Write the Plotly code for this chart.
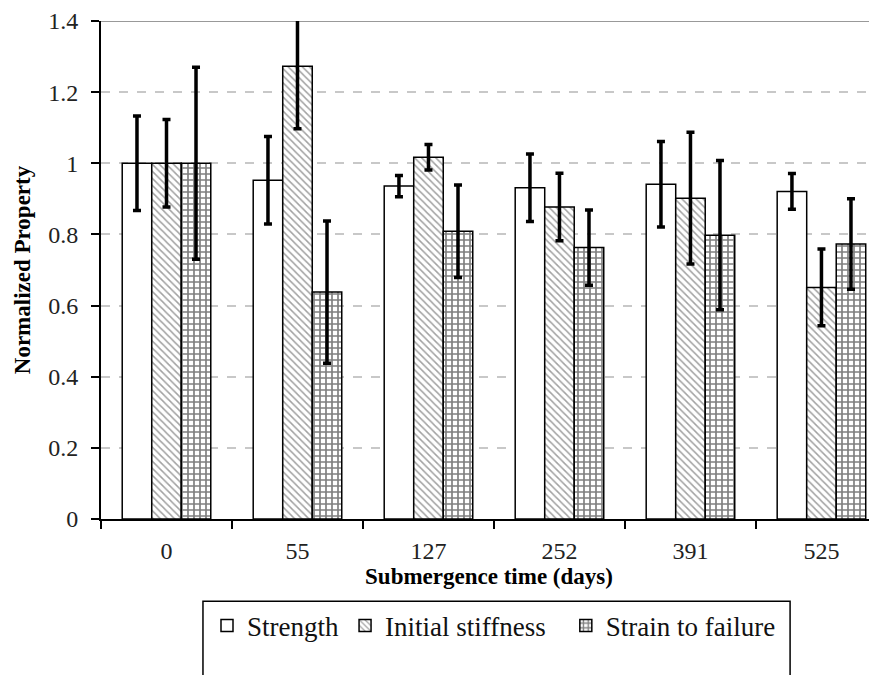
import plotly.graph_objects as go

categories = ["0", "55", "127", "252", "391", "525"]
strength = [1.0, 0.952, 0.936, 0.931, 0.941, 0.921]
strength_err = [0.133, 0.123, 0.030, 0.095, 0.120, 0.050]
stiffness = [1.0, 1.273, 1.017, 0.877, 0.902, 0.651]
stiffness_err = [0.123, 0.176, 0.036, 0.095, 0.185, 0.108]
strain = [1.0, 0.638, 0.809, 0.763, 0.798, 0.773]
strain_err = [0.270, 0.200, 0.130, 0.106, 0.210, 0.127]
y_ticks = [0, 0.2, 0.4, 0.6, 0.8, 1, 1.2, 1.4]
y_tick_text = ["0", "0.2", "0.4", "0.6", "0.8", "1", "1.2", "1.4"]

FONT = "Liberation Serif, Times New Roman, serif"
err_style = dict(type="data", visible=True, color="black", thickness=3.5, width=4)

fig = go.Figure()
fig.add_trace(go.Bar(
    name="Strength", x=categories, y=strength, legend="legend",
    error_y=dict(array=strength_err, **err_style),
    marker=dict(color="white", line=dict(color="black", width=1.5)),
))
fig.add_trace(go.Bar(
    name="Initial stiffness", x=categories, y=stiffness, legend="legend2",
    error_y=dict(array=stiffness_err, **err_style),
    marker=dict(color="white", line=dict(color="black", width=1.5),
                pattern=dict(shape="\\", fgcolor="#444444", bgcolor="white",
                             size=5, solidity=0.3)),
))
fig.add_trace(go.Bar(
    name="Strain to failure", x=categories, y=strain, legend="legend3",
    error_y=dict(array=strain_err, **err_style),
    marker=dict(color="white", line=dict(color="black", width=1.5),
                pattern=dict(shape="+", fgcolor="#000000", bgcolor="white",
                             size=6, solidity=0.48)),
))

leg_common = dict(orientation="h", xanchor="left", yanchor="middle", y=-0.2147,
                  bgcolor="rgba(0,0,0,0)", borderwidth=0,
                  font=dict(family=FONT, size=27, color="#111111"),
                  itemwidth=30)

# The page adds an 8 px body margin, so the figure is laid out 8 px smaller.
fig.update_layout(
    width=869, height=667,
    margin=dict(l=93, r=0, t=8, b=156),
    paper_bgcolor="white", plot_bgcolor="white",
    barmode="group", bargap=0.324, bargroupgap=0,
    font=dict(family=FONT, color="#111111", size=23),
    showlegend=True,
    legend=dict(x=0.1366, **leg_common),
    legend2=dict(x=0.3145, **leg_common),
    legend3=dict(x=0.5990, **leg_common),
    xaxis=dict(
        type="category", range=[-0.5, 5.424],
        showline=True, linecolor="black", linewidth=2,
        ticks="outside", tickson="boundaries", ticklen=8, tickwidth=2, tickcolor="black",
        ticklabelstandoff=9,
        showgrid=False,
        tickfont=dict(family=FONT, size=24, color="#222222"),
        title=dict(text="<b>Submergence time (days)</b>", standoff=4,
                   font=dict(family=FONT, size=23, color="black")),
    ),
    yaxis=dict(
        range=[0, 1.4], tickvals=y_ticks, ticktext=y_tick_text,
        showline=True, linecolor="black", linewidth=2,
        ticks="outside", ticklen=8, tickwidth=2, tickcolor="black",
        ticklabelstandoff=8, ticklabeloverflow="allow",
        showgrid=True, gridcolor="#c8c8c8", griddash="dash", gridwidth=1.5,
        zeroline=False,
        tickfont=dict(family=FONT, size=24, color="#222222"),
        title=dict(text="<b>Normalized Property</b>", standoff=11,
                   font=dict(family=FONT, size=23, color="black")),
    ),
    shapes=[
        dict(type="line", xref="paper", yref="y", x0=0, x1=1, y0=1.4, y1=1.4,
             line=dict(color="#999999", width=2), layer="below"),
        dict(type="rect", xref="paper", yref="paper", x0=0.1314, x1=0.888,
             y0=-0.165, y1=-0.35, line=dict(color="black", width=1.5),
             fillcolor="rgba(0,0,0,0)", layer="above"),
    ],
)

fig.write_html("out.html")
